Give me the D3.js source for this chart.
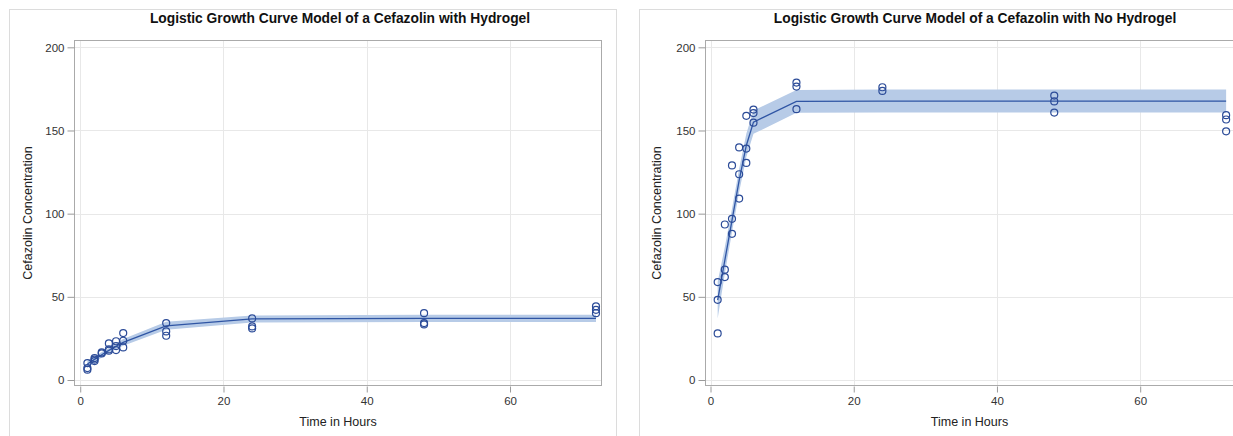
<!DOCTYPE html>
<html>
<head>
<meta charset="utf-8">
<script src="https://cdn.jsdelivr.net/npm/d3@7"></script>
<style>
 body { margin: 0; background: #fff; }
 text { font-family: "Liberation Sans", Arial, sans-serif; }
</style>
</head>
<body>
<svg id="mainContainer"></svg>
<script>
/* global d3 */

// time points of the fitted curve
var fitTimes = [1, 2, 3, 4, 5, 6, 12, 24, 48, 72];
var xTicks = [0, 20, 40, 60];
var yTicks = [0, 50, 100, 150, 200];

// hydrogel: observations
var hgObsTime = [1, 1, 1, 2, 2, 2, 3, 3, 4, 4, 4, 5, 5, 5, 6, 6, 6, 12, 12, 12, 24, 24, 24, 48, 48, 48, 72, 72, 72];
var hgObsConc = [10.2, 7.2, 6.2, 13.2, 12.3, 11.4, 16.6, 16.0, 22.0, 18.4, 17.6, 23.3, 20.4, 18.0, 28.2, 23.6, 19.6, 34.2, 29.2, 26.6, 37.0, 32.2, 31.0, 40.2, 34.2, 33.4, 44.3, 42.2, 40.2];
// hydrogel: fit and confidence band
var hgFit = [9.6, 12.4, 15.2, 17.8, 20.3, 22.6, 32.6, 36.7, 37.0, 37.0];
var hgLower = [7.5, 10.6, 13.6, 16.3, 18.6, 20.6, 30.2, 34.6, 34.8, 34.8];
var hgUpper = [11.7, 14.2, 16.8, 19.3, 22.0, 24.6, 35.0, 38.8, 39.2, 39.2];

// no hydrogel: observations
var nhObsTime = [1, 1, 1, 2, 2, 2, 3, 3, 3, 4, 4, 4, 5, 5, 5, 6, 6, 6, 12, 12, 12, 24, 24, 48, 48, 48, 72, 72, 72];
var nhObsConc = [58.9, 48.2, 28.0, 93.5, 66.3, 61.9, 129.0, 96.9, 87.9, 139.8, 123.7, 109.1, 158.8, 139.1, 130.5, 162.6, 160.5, 154.7, 178.8, 176.4, 162.8, 176.0, 173.8, 171.0, 167.5, 160.8, 159.2, 156.6, 149.5];
// no hydrogel: fit and confidence band
var nhFit = [48, 72, 96, 120, 141, 155, 167.5, 167.7, 167.7, 167.7];
var nhLower = [37, 64, 89, 113, 134, 148, 160.6, 160.8, 160.8, 160.8];
var nhUpper = [59, 80, 103, 127, 148, 162, 174.4, 174.6, 174.6, 174.6];

var svgWidth = 1233;
var svgHeight = 436;

var svg = d3.select('#mainContainer')
    .attr('width', svgWidth)
    .attr('height', svgHeight);

function drawPanel(p) {
  var g = svg.append('g');

  // light outer box of each graph
  g.append('rect')
    .attr('x', p.boxX + 0.5).attr('y', 9.5)
    .attr('width', p.boxW).attr('height', 460)
    .attr('fill', 'none').attr('stroke', '#dcdcdc');

  var x = d3.scaleLinear().domain(p.xDomain).range([p.left, p.right]);
  var y = d3.scaleLinear().domain([-3.6, 204.4]).range([386, 40]);

  // grid
  g.selectAll('.ygrid').data(yTicks).enter().append('line')
    .attr('x1', p.left).attr('x2', p.right)
    .attr('y1', function(d){ return Math.round(y(d)) + 0.5; })
    .attr('y2', function(d){ return Math.round(y(d)) + 0.5; })
    .attr('stroke', '#e8e8e8');
  g.selectAll('.xgrid').data(xTicks).enter().append('line')
    .attr('y1', 40).attr('y2', 386)
    .attr('x1', function(d){ return Math.round(x(d)) + 0.5; })
    .attr('x2', function(d){ return Math.round(x(d)) + 0.5; })
    .attr('stroke', '#e8e8e8');

  var rows = fitTimes.map(function(t, i){
    return { t: t, fit: p.fit[i], lo: p.lower[i], hi: p.upper[i] };
  });

  // confidence band
  g.append('path')
    .datum(rows)
    .attr('fill', '#b7cbe7')
    .attr('d', d3.area()
      .x(function(d){ return x(d.t); })
      .y0(function(d){ return y(d.lo); })
      .y1(function(d){ return y(d.hi); }));

  // fitted line
  g.append('path')
    .datum(rows)
    .attr('fill', 'none')
    .attr('stroke', '#2f55a4')
    .attr('stroke-width', 1.3)
    .attr('d', d3.line()
      .x(function(d){ return x(d.t); })
      .y(function(d){ return y(d.fit); }));

  // observations
  g.selectAll('.obs').data(p.obsTime).enter().append('circle')
    .attr('cx', function(d){ return x(d); })
    .attr('cy', function(d, i){ return y(p.obsConc[i]); })
    .attr('r', 3.5)
    .attr('fill', 'none')
    .attr('stroke', '#2b4b98')
    .attr('stroke-width', 1.2);

  // frame
  g.append('rect')
    .attr('x', p.left + 0.5).attr('y', 40.5)
    .attr('width', p.right - p.left - 1).attr('height', 345)
    .attr('fill', 'none').attr('stroke', '#aaaaaa');

  // axes
  var yAxis = g.append('g')
    .attr('transform', 'translate(' + (p.left + 0.5) + ',0)')
    .call(d3.axisLeft(y).tickValues(yTicks).tickSize(7).tickPadding(3));
  var xAxis = g.append('g')
    .attr('transform', 'translate(0,' + 386.5 + ')')
    .call(d3.axisBottom(x).tickValues(xTicks).tickSize(6).tickPadding(4));
  [yAxis, xAxis].forEach(function(a){
    a.select('.domain').remove();
    a.selectAll('line').attr('stroke', '#9a9a9a');
    a.selectAll('text').attr('fill', '#333').style('font-size', '11.5px')
      .style('font-family', '"Liberation Sans", Arial, sans-serif');
  });

  g.append('text')
    .attr('x', p.titleX).attr('y', 23)
    .attr('text-anchor', 'middle')
    .style('font-size', '13.8px').style('font-weight', 'bold')
    .attr('fill', '#111')
    .text(p.title);

  g.append('text')
    .attr('x', (p.left + p.right) / 2).attr('y', 426)
    .attr('text-anchor', 'middle')
    .style('font-size', '12.5px').attr('fill', '#222')
    .text('Time in Hours');

  g.append('text')
    .attr('transform', 'translate(' + p.yLabelX + ',213) rotate(-90)')
    .attr('text-anchor', 'middle')
    .style('font-size', '12.5px').attr('fill', '#222')
    .text('Cefazolin Concentration');
}

drawPanel({
  boxX: 9, boxW: 607,
  left: 74, right: 602, xDomain: [-0.87, 72.84],
  titleX: 340, yLabelX: 32,
  title: 'Logistic Growth Curve Model of a Cefazolin with Hydrogel',
  obsTime: hgObsTime, obsConc: hgObsConc,
  fit: hgFit, lower: hgLower, upper: hgUpper
});

drawPanel({
  boxX: 639, boxW: 700,
  left: 705, right: 1234, xDomain: [-0.77, 73.1],
  titleX: 975, yLabelX: 661,
  title: 'Logistic Growth Curve Model of a Cefazolin with No Hydrogel',
  obsTime: nhObsTime, obsConc: nhObsConc,
  fit: nhFit, lower: nhLower, upper: nhUpper
});
</script>
</body>
</html>
